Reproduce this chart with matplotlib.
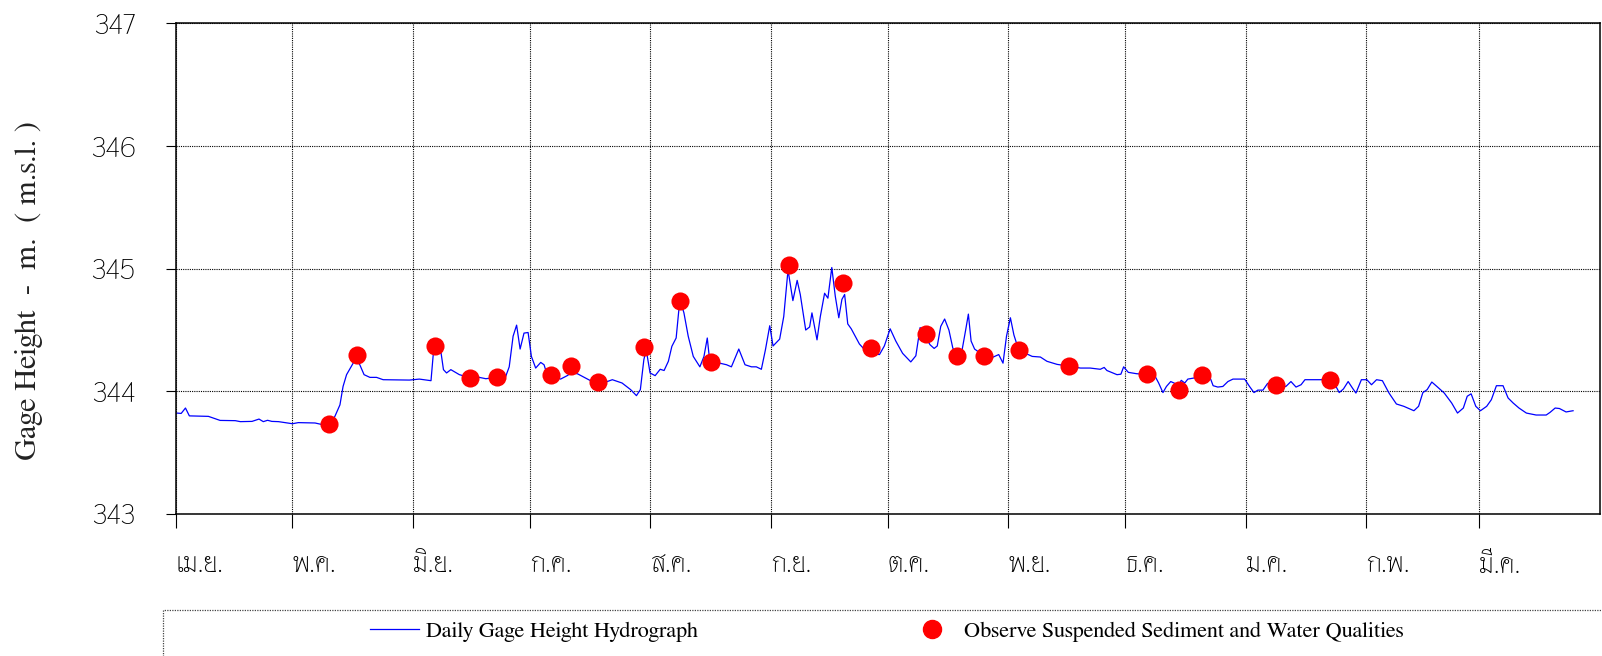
import matplotlib
matplotlib.use("Agg")
import matplotlib.pyplot as plt
from matplotlib.lines import Line2D
from matplotlib.patches import Rectangle

# daily gage height hydrograph (day of water year, m. msl)
gage_day = [0.3, 1.4, 2.5, 3.5, 8.4, 11.4, 15.3, 16.6, 19.6, 21.4, 22.5, 23.6, 24.7, 26.4,
            30.0, 31.5, 35.8, 37.5, 39.5, 40.9, 42.2, 43.0, 43.9, 45.6, 46.2, 47.3, 48.4,
            49.9, 51.6, 53.3, 60.05,
            62.6, 65.6, 66.2, 67.05, 68.2, 68.8, 69.6, 70.7, 72.9, 75.4, 78.0, 79.7, 82.5,
            84.8, 85.7, 86.7, 87.6, 88.5, 89.5, 90.55, 91.4, 92.5, 93.8, 94.65, 95.5, 96.5,
            98.9, 100.6, 101.6, 103.2, 106.6, 108.5, 110.9, 112.2, 114.7, 116.9, 118.4,
            119.4, 120.3, 120.9,
            121.9, 123.2, 124.5, 125.5, 126.6, 127.5, 128.6, 129.3, 129.85, 130.6, 131.7,
            133.0, 134.7, 135.75, 136.6, 137.1, 137.8, 139.8, 141.55, 142.8, 144.7, 146.3,
            147.95, 149.2, 150.5, 151.55, 152.65, 153.5, 155.2, 156.25, 157.35, 158.6,
            159.7, 160.5, 161.9, 162.9, 163.5, 164.8, 165.65, 166.75, 167.6, 168.6, 169.5,
            170.4, 171.2, 171.9, 172.7, 173.6, 175.7, 177.9, 180.85, 182.1,
            183.6, 185.05, 186.8, 188.9, 190.2, 191.3, 193.85, 194.9, 195.7, 196.6, 197.6,
            198.7, 199.7, 200.7, 202.1, 203.0, 203.7, 204.4, 205.3, 207.7, 209.4, 211.5,
            212.6, 213.5, 214.5, 215.4, 216.7, 218.4, 220.1, 222.2, 223.9, 226.5, 229.6,
            232.5, 235.0, 237.6, 238.6, 239.3, 241.9, 242.9, 243.6,
            244.8, 246.9, 248.6, 249.7, 251.6, 252.6, 253.7, 254.6, 255.7, 257.8, 258.4,
            259.3, 260.1, 263.7, 265.7, 266.6, 267.8, 269.1, 270.4, 271.7, 274.7, 275.95,
            277.1, 278.1, 279.4, 280.6, 282.8, 285.3, 286.6, 287.9, 289.2, 290.2, 294.3,
            296.7, 297.7, 299.0, 300.1, 301.3, 302.4, 303.3,
            304.7, 306.1, 307.3, 308.6, 310.1, 311.8, 313.7, 315.6, 318.2, 319.4, 320.5,
            321.6, 322.8, 324.1, 326.0, 327.9, 329.4, 330.9, 331.9, 332.9, 334.1, 335.3,
            336.9, 338.1, 339.4, 341.1, 342.4, 343.7, 345.2, 347.1, 349.6, 352.2, 353.2,
            354.5, 355.6, 357.3, 359.1]
gage_height = [343.823, 343.82, 343.864, 343.80, 343.796, 343.763, 343.761, 343.753, 343.755,
               343.774, 343.753, 343.764, 343.755, 343.753,
               343.736, 343.745, 343.742, 343.73, 343.735, 343.796, 343.89, 344.04, 344.136,
               344.23, 344.28, 344.217, 344.136, 344.114, 344.114, 344.095, 344.092,
               344.10, 344.087, 344.31, 344.34, 344.31, 344.177, 344.15, 344.177, 344.136,
               344.114, 344.114, 344.103, 344.115, 344.122, 344.20, 344.45, 344.54, 344.345,
               344.475, 344.48, 344.285, 344.19, 344.236, 344.217, 344.13, 344.125, 344.10,
               344.128, 344.15, 344.144, 344.087, 344.078, 344.08, 344.095, 344.068, 344.014,
               343.965, 344.014, 344.258, 344.34,
               344.15, 344.128, 344.18, 344.17, 344.245, 344.367, 344.435, 344.666, 344.72,
               344.64, 344.45, 344.285, 344.2, 344.285, 344.435, 344.285, 344.22, 344.23,
               344.217, 344.2, 344.345, 344.217, 344.2, 344.2, 344.18, 344.34, 344.535,
               344.37, 344.426, 344.61, 344.99, 344.74, 344.905, 344.79, 344.50, 344.525,
               344.64, 344.42, 344.61, 344.80, 344.76, 345.01, 344.775, 344.60, 344.75,
               344.79, 344.55, 344.51, 344.386, 344.31, 344.30, 344.37,
               344.51, 344.41, 344.31, 344.24, 344.29, 344.52, 344.38, 344.35, 344.37, 344.53,
               344.59, 344.50, 344.353, 344.30, 344.34, 344.50, 344.63, 344.41, 344.345,
               344.29, 344.27, 344.30, 344.23, 344.45, 344.60, 344.46, 344.33, 344.31,
               344.285, 344.28, 344.245, 344.22, 344.205, 344.19, 344.19, 344.18, 344.195,
               344.17, 344.136, 344.14, 344.20,
               344.155, 344.144, 344.14, 344.14, 344.128, 344.068, 343.99, 344.04, 344.08,
               344.05, 344.09, 344.068, 344.10, 344.12, 344.122, 344.046, 344.035, 344.04,
               344.08, 344.10, 344.10, 344.04, 343.99, 344.01, 344.01, 344.065, 344.05,
               344.04, 344.08, 344.035, 344.054, 344.095, 344.095, 344.095, 344.068, 343.99,
               344.02, 344.08, 344.027, 343.986,
               344.095, 344.095, 344.054, 344.095, 344.087, 343.986, 343.897, 343.878,
               343.842, 343.878, 343.99, 344.014, 344.076, 344.04, 343.986, 343.905, 343.823,
               343.864, 343.96, 343.98, 343.878, 343.842, 343.878, 343.932, 344.046, 344.046,
               343.946, 343.905, 343.864, 343.823, 343.807, 343.807, 343.829, 343.864,
               343.86, 343.832, 343.842]

# sediment / water quality sampling
sample_day = [39.5, 46.5, 66.6, 75.6, 82.5, 96.5, 101.6, 108.5, 120.3, 129.6, 137.5, 157.6,
              171.6, 178.7, 192.7, 200.7, 207.7, 216.7, 229.6, 249.7, 257.8, 263.7, 282.8,
              296.7]
sample_height = [343.734, 344.30, 344.37, 344.11, 344.12, 344.13, 344.21, 344.073, 344.36,
                 344.74, 344.24, 345.03, 344.88, 344.35, 344.47, 344.29, 344.29, 344.34,
                 344.21, 344.144, 344.01, 344.13, 344.054, 344.09]

month_start = [0, 30, 61, 91, 122, 153, 183, 214, 244, 275, 306, 335]
month_names = ["เม.ย.", "พ.ค.", "มิ.ย.", "ก.ค.", "ส.ค.", "ก.ย.", "ต.ค.", "พ.ย.", "ธ.ค.",
               "ม.ค.", "ก.พ.", "มี.ค."]
y_ticks = [343, 344, 345, 346, 347]

thai_font = ["Thasadith", "DejaVu Sans"]
eng_font = ["FreeSerif", "DejaVu Serif"]

fig = plt.figure(figsize=(16.02, 6.56), dpi=100)
ax = fig.add_axes([0.1097, 0.2165, 0.889, 0.7477])

line, = ax.plot(gage_day, gage_height, color="#0000ff", lw=0.9)
dots = ax.scatter(sample_day, sample_height, s=170, color="red", zorder=3, linewidths=0)

ax.set_xlim(0, 366)
ax.set_ylim(343, 347)
ax.set_xticks(month_start)
ax.set_xticklabels(month_names, fontfamily=thai_font, fontsize=20, ha="left")
ax.set_yticks(y_ticks)
ax.set_yticklabels([str(v) for v in y_ticks], fontfamily=thai_font, fontsize=20)
ax.tick_params(axis="x", direction="out", length=10, width=0.8, pad=17)
ax.tick_params(axis="y", direction="out", length=7, width=0.8, pad=22)
ax.grid(True, color="black", linestyle=(0, (1, 1)), linewidth=0.8)
for sp in ax.spines.values():
    sp.set_linewidth(1.1)

ax.set_ylabel("Gage Height  -  m.  ( m.s.l. )", fontfamily=eng_font, fontsize=22, color="#222222")
ax.yaxis.set_label_coords(-0.093, 0.456)

# legend frame
fig.add_artist(Rectangle((0.102, -0.05), 0.95, 0.12, transform=fig.transFigure,
                         fill=False, linestyle=(0, (1, 1)), linewidth=0.9, edgecolor="#444444"))
h1 = Line2D([], [], color="#0000ff", lw=0.9)
h2 = Line2D([], [], color="red", marker="o", markersize=13, linestyle="none")
fig.legend([h1], ["Daily Gage Height Hydrograph"], loc="center left",
           bbox_to_anchor=(370 / 1602, 0.0366), frameon=False, borderpad=0, borderaxespad=0,
           handlelength=2.2, handletextpad=0.3, prop={"family": eng_font, "size": 16})
fig.legend([h2], ["Observe Suspended Sediment and Water Qualities"], loc="center left",
           bbox_to_anchor=(908 / 1602, 0.0366), frameon=False, borderpad=0, borderaxespad=0,
           handlelength=2.2, handletextpad=0.3, prop={"family": eng_font, "size": 16})

fig.savefig("out.png", dpi=100)
